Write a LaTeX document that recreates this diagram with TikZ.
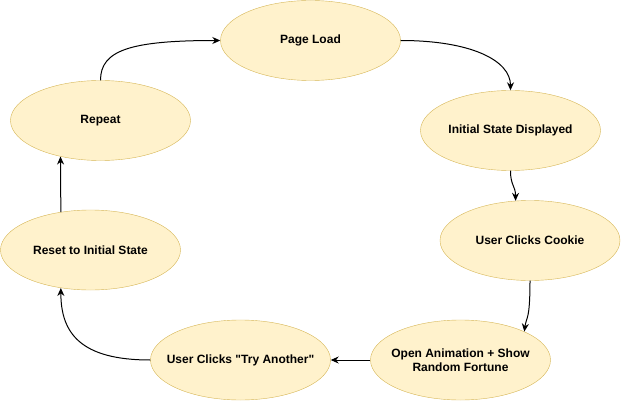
\documentclass[tikz,border=0pt]{standalone}
\usepackage{fontspec}
\setmainfont{Liberation Sans}
\usetikzlibrary{positioning, arrows.meta, shapes.geometric}
\definecolor{mFill}{HTML}{FFF2CC}
\definecolor{mEdge}{HTML}{D6B656}

\begin{document}
\begin{tikzpicture}[
  x=1pt, y=-1pt,
  on grid,
  stage/.style={
    ellipse,
    draw=mEdge,
    fill=mFill,
    minimum width=180pt,
    minimum height=80pt,
    inner xsep=-45pt,
    inner ysep=0pt,
    align=center,
    font=\fontsize{12}{14}\selectfont\bfseries
  },
  arrow/.style={
    -{Stealth[length=8pt,width=7pt]},
    draw=black,
    line width=1pt
  }
]
\useasboundingbox (0,0) rectangle (621,401);

\node[stage] (load) at (310.5,40.5) {Page Load};

\node[stage, below right=90pt and 200pt of load] (init) {Initial State Displayed};

\node[stage, below right=110pt and 19.5pt of init] (cookie) {User Clicks Cookie};

\node[stage, below left=119.5pt and 69.5pt of cookie] (anim) {Open Animation + Show\\Random Fortune};

\node[stage, left=220pt of anim] (try) {User Clicks \textquotedbl Try Another\textquotedbl};

\node[stage, above left=110pt and 150pt of try] (reset) {Reset to Initial State};

\node[stage, above right=129.5pt and 10pt of reset] (repeat) {Repeat};

\draw[arrow] (repeat.north) .. controls +(0,-30) and +(-90,0) .. (load.west);
\draw[arrow] (load.east) .. controls +(70,0) and +(0,-30) .. (init.north);
\draw[arrow] (init.south) .. controls +(0,15) and +(0,-15) .. (cookie.110);
\draw[arrow] (cookie.south) .. controls +(0,40) and +(2,-15) .. (anim.24);
\draw[arrow] (anim.west) -- (try.east);
\draw[arrow] (try.west) .. controls +(-70,0) and +(0,45) .. (reset.232);
\draw[arrow] (reset.128) -- (repeat.222);

\end{tikzpicture}
\end{document}
